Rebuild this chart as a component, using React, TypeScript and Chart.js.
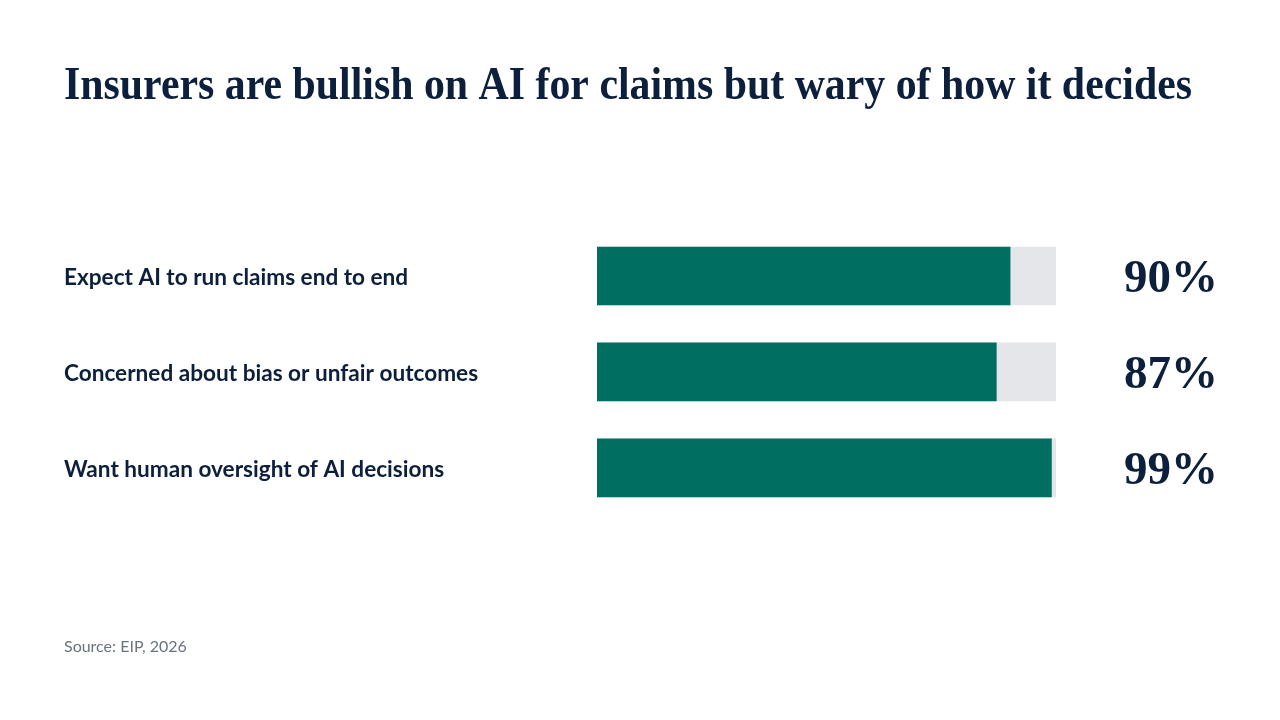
import React, { useEffect, useRef } from "react";
import { Chart, registerables } from "chart.js";

Chart.register(...registerables);

const TITLE = "Insurers are bullish on AI for claims but wary of how it decides";
const SOURCE = "Source: EIP, 2026";
const categories = [
  "Expect AI to run claims end to end",
  "Concerned about bias or unfair outcomes",
  "Want human oversight of AI decisions",
];
const values = [90, 87, 99];
const trackValues = [100, 100, 100];
const valueLabels = ["90%", "87%", "99%"];

const NAVY = "#0c1f3d";
const GREEN = "#006f61";
const TRACK = "#e5e6ea";
const SERIF = "'Liberation Serif', serif";
const SANS = "Lato, 'Noto Sans', sans-serif";

const headlinePlugin = {
  id: "headline",
  afterDraw(chart: any) {
    const ctx = chart.ctx;
    ctx.save();
    ctx.font = `bold 47px ${SERIF}`;
    ctx.fillStyle = NAVY;
    ctx.textAlign = "left";
    ctx.textBaseline = "middle";
    ctx.fillText(TITLE, 64, 86.8, 1128);
    ctx.restore();
  },
};

export default function App() {
  const ref = useRef<HTMLCanvasElement | null>(null);

  useEffect(() => {
    document.body.style.margin = "0";
    if (!ref.current) return;
    const chart = new Chart(ref.current, {
      type: "bar",
      data: {
        labels: categories,
        datasets: [
          {
            label: "Share",
            data: values,
            backgroundColor: GREEN,
            barThickness: 58,
            grouped: false,
            order: 1,
            yAxisID: "y",
          },
          {
            label: "Track",
            data: trackValues,
            backgroundColor: TRACK,
            barThickness: 58,
            grouped: false,
            order: 2,
            yAxisID: "y",
          },
        ],
      },
      plugins: [headlinePlugin],
      options: {
        indexAxis: "y",
        responsive: false,
        animation: false,
        layout: { padding: { left: 64, right: 62, top: 228, bottom: 0 } },
        scales: {
          x: { display: false, min: 0, max: 100 },
          y: {
            position: "left",
            grid: { display: false, drawTicks: false },
            border: { display: false },
            ticks: {
              crossAlign: "far",
              labelOffset: 2,
              color: NAVY,
              font: { family: SANS, size: 22.6, weight: "bold" },
            },
            afterFit: (s: any) => {
              s.width = 533;
            },
          },
          y2: {
            position: "right",
            type: "category",
            labels: valueLabels,
            offset: true,
            grid: { display: false, drawTicks: false },
            border: { display: false },
            ticks: {
              crossAlign: "far",
              labelOffset: 4,
              color: NAVY,
              font: { family: SERIF, size: 47, weight: "bold" },
            },
            afterFit: (s: any) => {
              s.width = 162;
            },
          },
        },
        plugins: {
          legend: { display: false },
          tooltip: { enabled: false },
          title: { display: false },
          subtitle: {
            display: true,
            position: "bottom",
            text: SOURCE,
            align: "start",
            color: "#6b7280",
            font: { family: SANS, size: 16, weight: "normal", lineHeight: 1.2 },
            padding: { top: 121, bottom: 64 },
          },
        },
      },
    });
    return () => chart.destroy();
  }, []);

  return (
    <div style={{ width: 1280, height: 720, background: "#ffffff" }}>
      <canvas ref={ref} width={1280} height={720} />
    </div>
  );
}
